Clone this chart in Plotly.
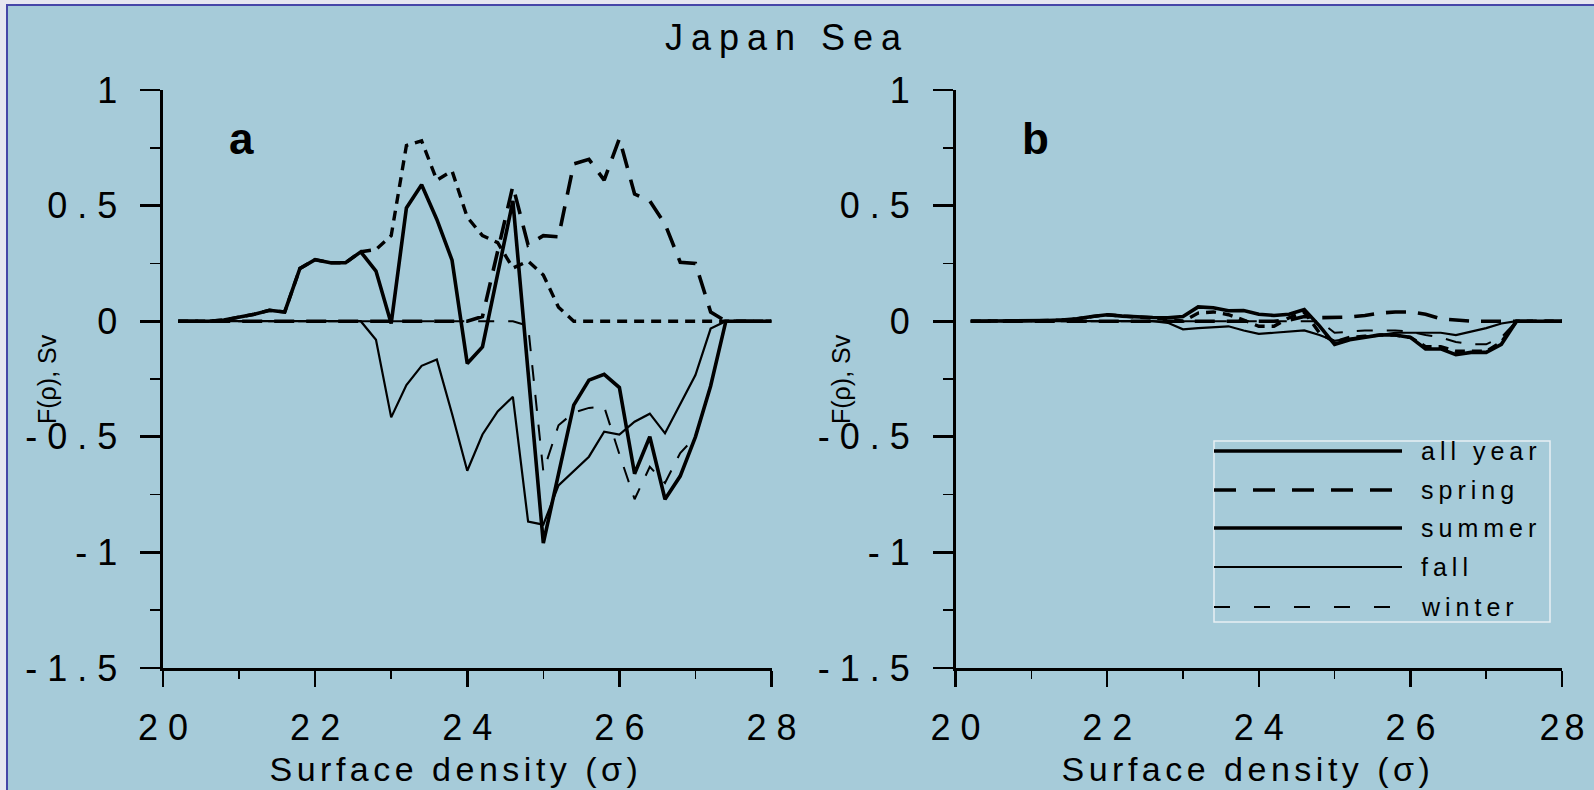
import plotly.graph_objects as go

# ---------------- data ----------------
sigma = [20.2, 20.4, 20.6, 20.8, 21.0, 21.2, 21.4, 21.6, 21.8, 22.0,
         22.2, 22.4, 22.6, 22.8, 23.0, 23.2, 23.4, 23.6, 23.8, 24.0,
         24.2, 24.4, 24.6, 24.8, 25.0, 25.2, 25.4, 25.6, 25.8, 26.0,
         26.2, 26.4, 26.6, 26.8, 27.0, 27.2, 27.4, 27.6, 27.8, 28.0]

# panel a
all_year_a = [0, 0, 0, 0.005, 0.016, 0.03, 0.047, 0.04, 0.228, 0.266,
              0.253, 0.253, 0.30, 0.217, -0.01, 0.49, 0.59, 0.44, 0.264, -0.183,
              -0.111, 0.20, 0.52, -0.22, -0.96, -0.66, -0.363, -0.255, -0.23, -0.287,
              -0.66, -0.50, -0.77, -0.67, -0.50, -0.28, 0, 0, 0, 0]
spring_a = [0, 0, 0, 0, 0, 0, 0, 0, 0, 0,
            0, 0, 0, 0, 0, 0, 0, 0, 0, 0,
            0.02, 0.30, 0.585, 0.33, 0.37, 0.365, 0.68, 0.70, 0.61, 0.79,
            0.55, 0.52, 0.42, 0.255, 0.25, 0.04, 0, 0, 0, 0]
summer_a = [0, 0, 0, 0.005, 0.016, 0.03, 0.047, 0.04, 0.228, 0.266,
            0.253, 0.253, 0.30, 0.31, 0.37, 0.76, 0.78, 0.61, 0.65, 0.45,
            0.37, 0.34, 0.23, 0.26, 0.20, 0.06, 0, 0, 0, 0,
            0, 0, 0, 0, 0, 0, 0, 0, 0, 0]
fall_a = [0, 0, 0, 0, 0, 0, 0, 0, 0, 0,
          0, 0, 0, -0.08, -0.416, -0.276, -0.193, -0.166, -0.40, -0.647,
          -0.49, -0.39, -0.327, -0.867, -0.88, -0.71, -0.65, -0.586, -0.478, -0.49,
          -0.435, -0.40, -0.485, -0.36, -0.233, -0.032, 0, 0, 0, 0]
winter_a = [0, 0, 0, 0, 0, 0, 0, 0, 0, 0,
            0, 0, 0, 0, 0, 0, 0, 0, 0, 0,
            0, 0, 0, -0.02, -0.65, -0.45, -0.395, -0.375, -0.37, -0.575,
            -0.77, -0.63, -0.70, -0.57, -0.50, -0.28, 0, 0, 0, 0]

# panel b
all_year_b = [0, 0, 0, 0, 0, 0.003, 0.005, 0.01, 0.02, 0.028,
              0.022, 0.018, 0.016, 0.015, 0.02, 0.062, 0.058, 0.045, 0.046, 0.03,
              0.025, 0.03, 0.05, -0.02, -0.10, -0.08, -0.07, -0.06, -0.06, -0.07,
              -0.12, -0.12, -0.145, -0.135, -0.135, -0.10, 0, 0, 0, 0]
spring_b = [0, 0, 0, 0, 0, 0, 0, 0, 0, 0,
            0, 0, 0, 0, 0, 0, 0, 0, 0, 0,
            0, 0.005, 0.02, 0.015, 0.015, 0.018, 0.025, 0.035, 0.04, 0.04,
            0.03, 0.01, 0.005, 0, 0, 0, 0, 0, 0, 0]
summer_b = [0, 0, 0, 0, 0, 0.003, 0.005, 0.01, 0.02, 0.028,
            0.022, 0.018, 0.016, 0.01, 0.0, 0.035, 0.04, 0.028, 0.005, -0.022,
            -0.022, 0.015, 0.04, -0.05, -0.09, -0.07, -0.065, -0.06, -0.06, -0.07,
            -0.11, -0.11, -0.13, -0.13, -0.13, -0.09, 0, 0, 0, 0]
fall_b = [0, 0, 0, 0, 0, 0, 0, 0, 0, 0,
          0, 0, 0, -0.007, -0.035, -0.03, -0.025, -0.022, -0.04, -0.055,
          -0.05, -0.045, -0.04, -0.06, -0.085, -0.075, -0.065, -0.06, -0.05, -0.05,
          -0.05, -0.05, -0.06, -0.045, -0.03, -0.01, 0, 0, 0, 0]
winter_b = [0, 0, 0, 0, 0, 0, 0, 0, 0, 0,
            0, 0, 0, 0, 0, 0, 0, 0, 0, 0,
            0, 0, 0, 0, -0.05, -0.045, -0.04, -0.04, -0.04, -0.045,
            -0.06, -0.07, -0.09, -0.10, -0.10, -0.07, 0, 0, 0, 0]

x_ticks = [20, 22, 24, 26, 28]
x_tick_labels = ["20", "22", "24", "26", "28"]
x_minor = [21, 23, 25, 27]
y_ticks = [-1.5, -1, -0.5, 0, 0.5, 1]
y_tick_labels = ["-1.5", "-1", "-0.5", "0", "0.5", "1"]
y_minor = [-1.25, -0.75, -0.25, 0.25, 0.75]

legend_names = ["all year", "spring", "summer", "fall", "winter"]

# ---------------- layout geometry ----------------
W, H = 1594, 790
ML, MR, MT, MB = 163, 32, 90, 122
PW = W - ML - MR
PH = H - MT - MB


def fx(px):
    return (px - ML) / PW


def fy(py):
    return (H - MB - py) / PH


BG = "#a6cbd9"
FONT = "Liberation Sans, Arial, Helvetica, sans-serif"

styles = {
    "all year": dict(color="black", width=3.6, dash="solid"),
    "spring": dict(color="black", width=3.6, dash="20px,12px"),
    "summer": dict(color="black", width=3.4, dash="10px,7px"),
    "fall": dict(color="black", width=2.2, dash="solid"),
    "winter": dict(color="black", width=2.0, dash="16px,14px"),
}
legend_styles = {
    "all year": dict(color="black", width=3.6, dash="solid"),
    "spring": dict(color="black", width=3.6, dash="22px,17px"),
    "summer": dict(color="black", width=3.4, dash="solid"),
    "fall": dict(color="black", width=2.2, dash="solid"),
    "winter": dict(color="black", width=2.0, dash="16px,24px"),
}

fig = go.Figure()

panels = [
    ("x", "y", {"all year": all_year_a, "spring": spring_a, "summer": summer_a,
                "fall": fall_a, "winter": winter_a}),
    ("x2", "y2", {"all year": all_year_b, "spring": spring_b, "summer": summer_b,
                  "fall": fall_b, "winter": winter_b}),
]
for xa, ya, series in panels:
    for name in ["fall", "winter", "spring", "summer", "all year"]:
        fig.add_trace(go.Scatter(
            x=sigma, y=series[name], mode="lines", name=name,
            line=styles[name], xaxis=xa, yaxis=ya, showlegend=False,
            hoverinfo="skip"))

axis_common = dict(
    showline=True, linecolor="black", linewidth=2.6, mirror=False,
    showgrid=False, zeroline=False, ticks="outside", tickcolor="black",
    tickwidth=2.6, tickfont=dict(family=FONT, size=36, color="black"),
)
xaxis_cfg = dict(axis_common, range=[20, 28], tickmode="array",
                 tickvals=x_ticks, ticktext=x_tick_labels, ticklen=16,
                 ticklabelstandoff=10,
                 minor=dict(ticks="outside", ticklen=8, tickwidth=1.6,
                            tickcolor="black", tickmode="array",
                            tickvals=x_minor))
yaxis_cfg = dict(axis_common, range=[-1.5, 1], tickmode="array",
                 tickvals=y_ticks, ticktext=y_tick_labels, ticklen=20,
                 ticklabelstandoff=16,
                 minor=dict(ticks="outside", ticklen=10, tickwidth=1.6,
                            tickcolor="black", tickmode="array",
                            tickvals=y_minor))

dom_a = [0, fx(771.5)]
dom_b = [fx(955.6), 1]

fig.update_layout(
    width=W, height=H,
    margin=dict(l=ML, r=MR, t=MT, b=MB, pad=0),
    paper_bgcolor="#e6e6f0",
    plot_bgcolor="rgba(0,0,0,0)",
    showlegend=False,
    font=dict(family=FONT, color="black"),
    xaxis=dict(xaxis_cfg, domain=dom_a, anchor="y"),
    yaxis=dict(yaxis_cfg, domain=[0, 1], anchor="x"),
    xaxis2=dict(xaxis_cfg, domain=dom_b, anchor="y2"),
    yaxis2=dict(yaxis_cfg, domain=[0, 1], anchor="x2"),
)

shapes = []
# slide frame / background
shapes.append(dict(type="rect", xref="paper", yref="paper",
                   x0=fx(7), x1=fx(1620), y0=fy(5), y1=fy(820),
                   fillcolor=BG, line=dict(color="#4646a8", width=2),
                   layer="below"))
# legend box
lx0, lx1, ly0, ly1 = 1214, 1550, 441, 622
shapes.append(dict(type="rect", xref="paper", yref="paper",
                   x0=fx(lx0), x1=fx(lx1), y0=fy(ly0), y1=fy(ly1),
                   line=dict(color="#e8f0f4", width=1.5),
                   fillcolor="rgba(0,0,0,0)", layer="above"))
rows = [451, 490, 528, 567, 607]
annotations = []
for name, ry in zip(legend_names, rows):
    shapes.append(dict(type="line", xref="paper", yref="paper",
                       x0=fx(1214), x1=fx(1402), y0=fy(ry), y1=fy(ry),
                       line=legend_styles[name], layer="above"))
    annotations.append(dict(xref="paper", yref="paper", x=fx(1419), y=fy(ry),
                            text=name, showarrow=False, xanchor="left",
                            align="left", yanchor="middle",
                            font=dict(family=FONT, size=25, color="black")))

# title
annotations.append(dict(xref="paper", yref="paper", x=fx(783), y=fy(38),
                        text="Japan Sea", showarrow=False, xanchor="center",
                        yanchor="middle",
                        font=dict(family=FONT, size=36, color="black")))
# panel letters
for letter, px in [("a", 241), ("b", 1035)]:
    annotations.append(dict(xref="paper", yref="paper", x=fx(px), y=fy(139),
                            text="<b>%s</b>" % letter, showarrow=False,
                            xanchor="center", yanchor="middle",
                            font=dict(family=FONT, size=44, color="black")))
# axis titles
for px in [453, 1245]:
    annotations.append(dict(xref="paper", yref="paper", x=fx(px), y=fy(769),
                            text="Surface density (σ)", showarrow=False,
                            xanchor="center", yanchor="middle",
                            font=dict(family=FONT, size=34, color="black")))
for px in [47, 841]:
    annotations.append(dict(xref="paper", yref="paper", x=fx(px), y=fy(379),
                            text="F(ρ), Sv", showarrow=False, textangle=-90,
                            xanchor="center", yanchor="middle",
                            font=dict(family=FONT, size=25, color="black")))

fig.update_layout(shapes=shapes, annotations=annotations)

# the reference's lettering is horizontally wide: widen it with letter spacing
post = """
document.body.style.margin = '0';
var gd = document.getElementById('{plot_id}');
function widenText() {
  gd.querySelectorAll('.ytick text, .y2tick text').forEach(function (t) {
    t.style.letterSpacing = '10px'; t.setAttribute('dx', '10');
  });
  gd.querySelectorAll('.xtick text').forEach(function (t) {
    t.style.letterSpacing = '10px'; t.setAttribute('dx', '5');
  });
  gd.querySelectorAll('.x2tick text').forEach(function (t) {
    var s = (t.textContent === '28') ? 5 : 10;
    t.style.letterSpacing = s + 'px'; t.setAttribute('dx', String(s / 2));
  });
  var m = {'Japan Sea': 8, 'Surface density (\\u03c3)': 4.5,
           'all year': 5, 'spring': 5, 'summer': 5, 'fall': 5, 'winter': 5};
  gd.querySelectorAll('text.annotation-text').forEach(function (t) {
    var k = t.textContent;
    if (m[k] !== undefined) {
      t.style.letterSpacing = m[k] + 'px';
      if (t.getAttribute('text-anchor') === 'middle') {
        t.setAttribute('dx', String(m[k] / 2));
      }
    }
  });
}
widenText();
gd.on('plotly_afterplot', widenText);
"""

fig.write_html("out.html", post_script=post,
               config={"displayModeBar": False, "staticPlot": True})
